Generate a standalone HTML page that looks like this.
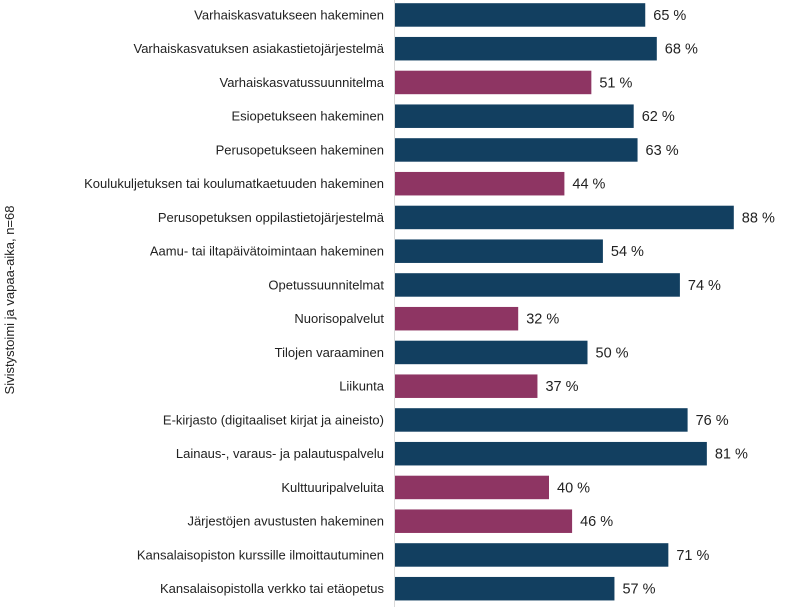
<!DOCTYPE html>
<html><head><meta charset="utf-8"><style>
html,body{margin:0;padding:0;background:#fff;}
body{width:790px;height:607px;overflow:hidden;font-family:"Liberation Sans",sans-serif;}
</style></head><body>
<svg id="chart" width="790" height="607" xmlns="http://www.w3.org/2000/svg">
<line x1="394.5" y1="0" x2="394.5" y2="607" stroke="#d9d9d9" stroke-width="1"/>
<text transform="translate(14,300) rotate(-90)" text-anchor="middle" font-size="13" fill="#222">Sivistystoimi ja vapaa-aika, n=68</text>
<g id="bars"></g>
</svg>
<script>
const categories = ["Varhaiskasvatukseen hakeminen","Varhaiskasvatuksen asiakastietojärjestelmä","Varhaiskasvatussuunnitelma","Esiopetukseen hakeminen","Perusopetukseen hakeminen","Koulukuljetuksen tai koulumatkaetuuden hakeminen","Perusopetuksen oppilastietojärjestelmä","Aamu- tai iltapäivätoimintaan hakeminen","Opetussuunnitelmat","Nuorisopalvelut","Tilojen varaaminen","Liikunta","E-kirjasto (digitaaliset kirjat ja aineisto)","Lainaus-, varaus- ja palautuspalvelu","Kulttuuripalveluita","Järjestöjen avustusten hakeminen","Kansalaisopiston kurssille ilmoittautuminen","Kansalaisopistolla verkko tai etäopetus"];
const values = [65,68,51,62,63,44,88,54,74,32,50,37,76,81,40,46,71,57];
const highlighted = [false,false,true,false,false,true,false,false,false,true,false,true,false,false,true,true,false,false];
const x0 = 395, pxPer = 3.85, rowH = 33.75, top0 = 3.2, barH = 23.5;
const xScale = v => x0 + v * pxPer;
const yScale = i => top0 + i * rowH;
const g = document.getElementById('bars');
const NS = "http://www.w3.org/2000/svg";
categories.forEach((c, i) => {
  const y = yScale(i);
  const r = document.createElementNS(NS, 'rect');
  
  
  r.setAttribute('x', x0);
  r.setAttribute('y', y);
  r.setAttribute('width', xScale(values[i]) - x0);
  r.setAttribute('height', barH);
  r.setAttribute('fill', highlighted[i] ? '#8e3563' : '#123f60');
  g.appendChild(r);
  const lab = document.createElementNS(NS, 'text');
  
  
  lab.setAttribute('x', 384);
  lab.setAttribute('y', y + barH / 2 + 4.5);
  lab.setAttribute('text-anchor', 'end');
  lab.setAttribute('font-size', '13');
  lab.setAttribute('fill', '#222');
  lab.textContent = c;
  g.appendChild(lab);
  const v = document.createElementNS(NS, 'text');
  
  
  v.setAttribute('x', xScale(values[i]) + 8);
  v.setAttribute('y', y + barH / 2 + 5);
  v.setAttribute('font-size', '14.5');
  v.setAttribute('fill', '#222');
  v.textContent = values[i] + ' %';
  g.appendChild(v);
});
</script>
</body></html>
